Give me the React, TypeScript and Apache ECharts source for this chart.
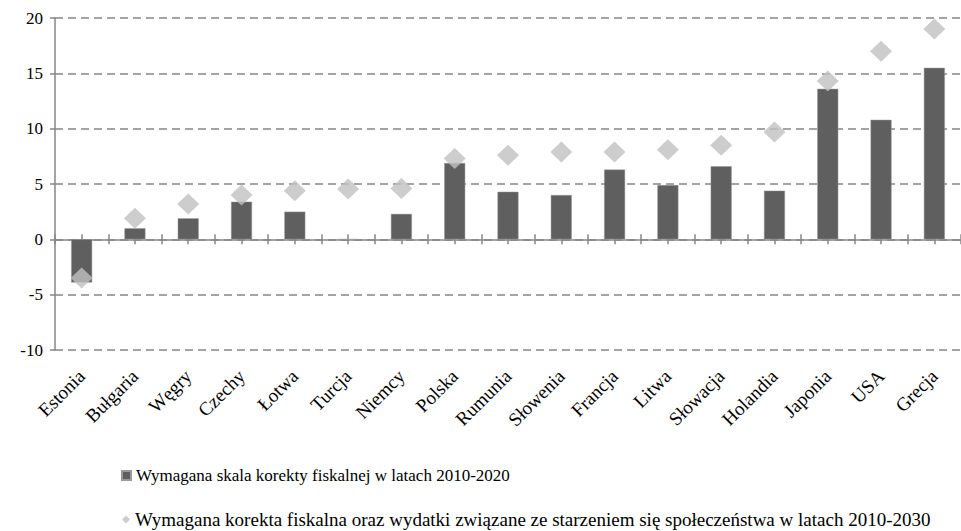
import React, { useEffect, useRef } from "react";
import * as echarts from "echarts";

const categories = [
  "Estonia", "Bułgaria", "Węgry", "Czechy", "Łotwa", "Turcja", "Niemcy", "Polska",
  "Rumunia", "Słowenia", "Francja", "Litwa", "Słowacja", "Holandia", "Japonia", "USA", "Grecja",
];
const barValues = [-3.9, 1.0, 1.9, 3.4, 2.5, 0, 2.3, 6.9, 4.3, 4.0, 6.3, 4.9, 6.6, 4.4, 13.6, 10.8, 15.5];
const diamondValues = [-3.5, 1.9, 3.2, 4.0, 4.4, 4.55, 4.6, 7.3, 7.6, 7.9, 7.9, 8.1, 8.5, 9.7, 14.3, 17.0, 19.0];
const barName = "Wymagana skala korekty fiskalnej w latach 2010-2020";
const diamondName =
  "Wymagana korekta fiskalna oraz wydatki związane ze starzeniem się społeczeństwa w latach 2010-2030";

const FONT = "Liberation Serif";
const AXIS_GREY = "#868686";

export default function App() {
  const ref = useRef<HTMLDivElement>(null);
  useEffect(() => {
    if (!ref.current) return;
    const chart = echarts.init(ref.current, undefined, { renderer: "svg" });
    const halfSlots = categories.flatMap(() => ["", ""]);
    chart.setOption({
      animation: false,
      backgroundColor: "#ffffff",
      textStyle: { fontFamily: FONT },
      grid: { left: 55, top: 18, width: 907, height: 332, containLabel: false },
      legend: [
        {
          left: 116,
          top: 462,
          itemWidth: 9,
          itemHeight: 9,
          textStyle: { fontFamily: FONT, fontSize: 17, color: "#000" },
          data: [{ name: barName, icon: "rect", itemStyle: { color: "#5f5f5f" } }],
        },
        {
          left: 117,
          top: 505,
          itemWidth: 8,
          itemHeight: 8,
          textStyle: { fontFamily: FONT, fontSize: 19, color: "#000" },
          data: [{ name: diamondName, icon: "diamond", itemStyle: { color: "#c0c0c0" } }],
        },
      ],
      xAxis: [
        {
          type: "category",
          data: categories,
          position: "bottom",
          axisLine: { show: false, onZero: false },
          axisTick: { show: false },
          axisLabel: {
            interval: 0,
            rotate: 45,
            margin: 23,
            fontFamily: FONT,
            fontSize: 19,
            color: "#000",
          },
        },
        {
          type: "category",
          data: halfSlots,
          position: "bottom",
          axisLine: { show: true, onZero: true, onZeroAxisIndex: 0, lineStyle: { color: AXIS_GREY, width: 1.5 } },
          axisTick: { show: true, interval: 0, length: 5, lineStyle: { color: AXIS_GREY, width: 1.5 } },
          axisLabel: { show: false },
          splitLine: { show: false },
        },
        {
          type: "category",
          data: halfSlots,
          position: "bottom",
          axisLine: { show: false, onZero: true, onZeroAxisIndex: 0 },
          axisTick: { show: true, inside: true, interval: 0, length: 5, lineStyle: { color: AXIS_GREY, width: 1.5 } },
          axisLabel: { show: false },
          splitLine: { show: false },
        },
      ],
      yAxis: {
        type: "value",
        min: -10,
        max: 20,
        interval: 5,
        axisLine: { show: true, lineStyle: { color: AXIS_GREY, width: 1.5 } },
        axisTick: { show: true, length: 5, lineStyle: { color: AXIS_GREY, width: 1.5 } },
        axisLabel: { fontFamily: FONT, fontSize: 17, color: "#000", margin: 12 },
        splitLine: { show: true, lineStyle: { color: AXIS_GREY, width: 1.5, type: [8, 5] } },
      },
      series: [
        {
          name: barName,
          type: "bar",
          xAxisIndex: 0,
          data: barValues,
          barWidth: 21,
          itemStyle: { color: "#5f5f5f", borderColor: "#9a9a9a", borderWidth: 0.5 },
          z: 2,
        },
        {
          name: diamondName,
          type: "scatter",
          xAxisIndex: 0,
          data: diamondValues,
          symbol: "diamond",
          symbolSize: [22, 21],
          itemStyle: { color: "#c0c0c0" },
          z: 3,
        },
      ],
    });
    return () => chart.dispose();
  }, []);
  return <div ref={ref} style={{ width: 961, height: 531, position: "absolute", left: 0, top: 0 }} />;
}
